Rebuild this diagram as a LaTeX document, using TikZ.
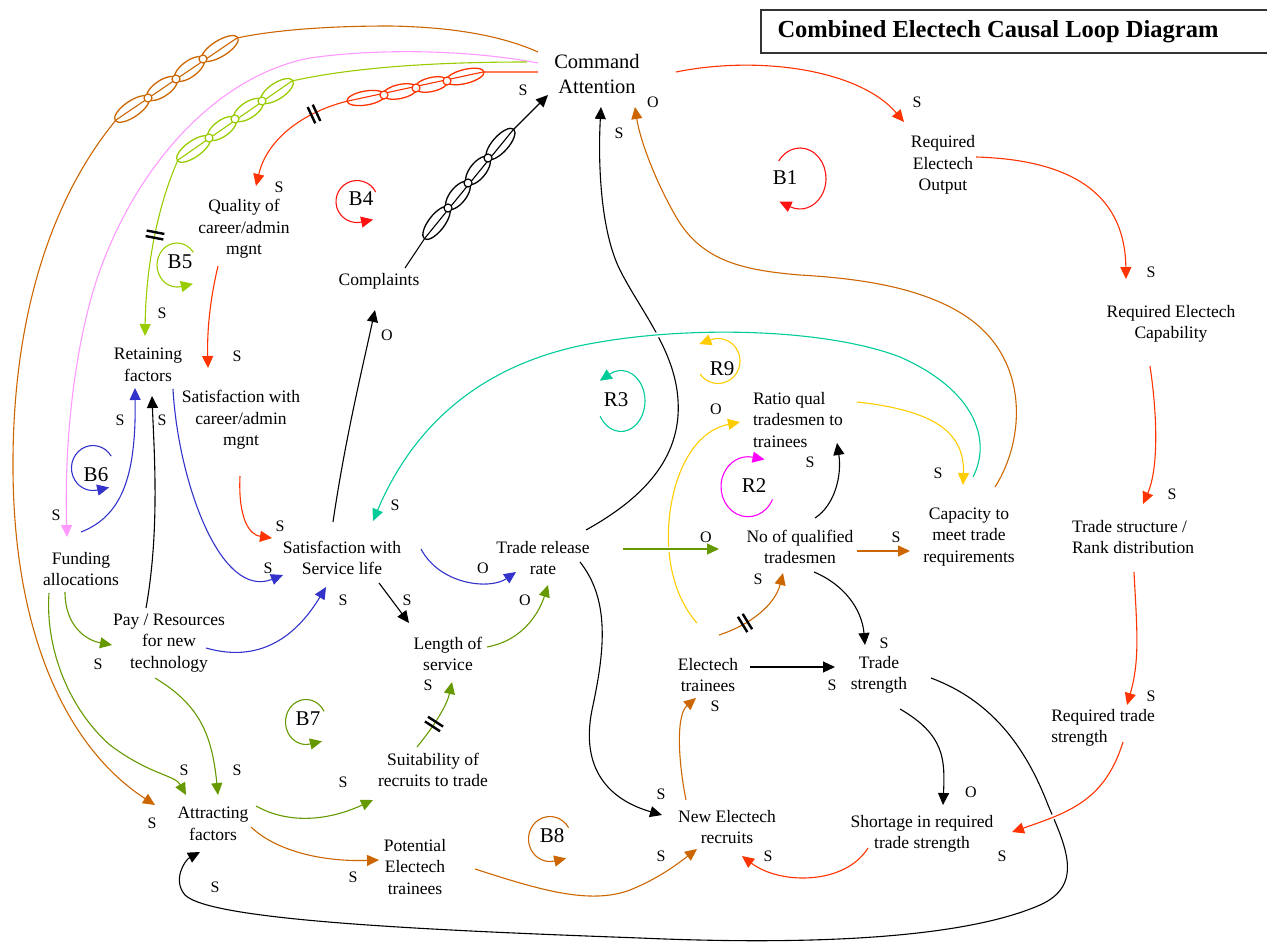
\documentclass[tikz,border=0pt]{standalone}
\usepackage{fontspec}
\setmainfont{Liberation Serif}
\usetikzlibrary{arrows.meta}

\definecolor{cRed}{HTML}{FF3300}
\definecolor{cLoopRed}{HTML}{FF1111}
\definecolor{cBrown}{HTML}{CC6600}
\definecolor{cPink}{HTML}{FF99FF}
\definecolor{cLime}{HTML}{99CC00}
\definecolor{cGreen}{HTML}{669900}
\definecolor{cBlue}{HTML}{3333CC}
\definecolor{cTeal}{HTML}{00CC99}
\definecolor{cYellow}{HTML}{FFCC00}
\definecolor{cMagenta}{HTML}{FF00FF}

\tikzset{
  var/.style={font=\fontsize{17.5}{21.5}\selectfont, align=center, inner sep=0pt},
  varl/.style={var, align=left},
  pol/.style={font=\fontsize{16}{16}\selectfont, inner sep=0pt},
  looplab/.style={font=\fontsize{21}{21}\selectfont, inner sep=0pt},
  link/.style={line width=1.1pt, -{Triangle[length=12pt,width=11pt]}},
  loopline/.style={line width=1.1pt, -{Triangle[length=12pt,width=11pt]}},
  jump/.style={preaction={draw=white, line width=5pt, -}},
  chainlink/.style={line width=1.3pt, fill=white},
  joint/.style={line width=1.2pt, fill=white},
  delaymark/.pic={\draw[line width=2.4pt] (-2.8,-9) -- (-2.8,9) (2.8,-9) -- (2.8,9);},
}

\begin{document}
\begin{tikzpicture}[x=1pt,y=-1pt]
\useasboundingbox (0,0) rectangle (1267,944);

% ---------- title ----------
\draw[line width=1.5pt, draw=black!80] (761,10) rectangle (1285,53);
\node[font=\fontsize{24.5}{24.5}\selectfont\bfseries, inner sep=0pt] (title) at (998,32) {Combined Electech Causal Loop Diagram};

% ---------- variables ----------
\node[var, font=\fontsize{20.5}{25}\selectfont] (cmd) at (597,74) {Command\\Attention};
\node[var] (reqout)  at (943,165)  {Required\\Electech\\Output};
\node[var] (reqcap)  at (1171,324) {Required Electech\\Capability};
\node[varl] (tstruct) at (1133,537) {Trade structure /\\Rank distribution};
\node[varl] (reqts)  at (1103,728) {Required trade\\strength};
\node[var] (short)   at (922,834)  {Shortage in required\\trade strength};
\node[var] (newrec)  at (727,827)  {New Electech\\recruits};
\node[var] (etrain)  at (708,675)  {Electech\\trainees};
\node[var] (tstr)    at (879,675)  {Trade\\strength};
\node[var] (nqual)   at (800,547)  {No of qualified\\tradesmen};
\node[var] (capac)   at (969,537)  {Capacity to\\meet trade\\requirements};
\node[varl] (ratio)  at (798,420)  {Ratio qual\\tradesmen to\\trainees};
\node[var] (trr)     at (543,558)  {Trade release\\rate};
\node[var] (sats)    at (342,558)  {Satisfaction with\\Service life};
\node[var] (los)     at (448,654)  {Length of\\service};
\node[var] (suit)    at (433,770)  {Suitability of\\recruits to trade};
\node[var] (pot)     at (415,867)  {Potential\\Electech\\trainees};
\node[var] (attr)    at (213,824)  {Attracting\\factors};
\node[var] (pay)     at (169,643)  {Pay / Resources\\for new\\technology};
\node[var] (fund)    at (81,569)   {Funding\\allocations};
\node[var] (ret)     at (148,365)  {Retaining\\factors};
\node[var] (satc)    at (241,420)  {Satisfaction with\\career/admin\\mgnt};
\node[var] (qual)    at (244,229)  {Quality of\\career/admin\\mgnt};
\node[var] (compl)   at (379,281)  {Complaints};

% ---------- black links ----------
\begin{scope}[color=black]
\draw[link] ([shift={(26,-13)}]compl.center) -- (425,238) -- (513,130) -- ([shift={(-49,21)}]cmd.center);
\draw[link] ([shift={(-23,-35)}]pay.center) .. controls (160,530) and (154,450) .. ([shift={(4,31)}]ret.center);
\draw[link] ([shift={(-9,-36)}]sats.center) .. controls (345,440) and (362,370) .. ([shift={(-4,29)}]compl.center);
\draw[link] ([shift={(37,25)}]sats.center) -- ([shift={(-39,-31)}]los.center);
\draw[link] ([shift={(37,4)}]trr.center) .. controls (610,600) and (605,650) .. (592,710) .. controls (580,770) and (610,800) .. ([shift={(-65,-12)}]newrec.center);
\draw[link] ([shift={(43,-28)}]trr.center) .. controls (640,500) and (682,460) .. (678,400) .. controls (675,350) and (640,310) .. (620,270) .. controls (600,230) and (598,160) .. ([shift={(4,33)}]cmd.center);
\draw[link] ([shift={(15,-29)}]nqual.center) .. controls (835,505) and (842,475) .. ([shift={(39,23)}]ratio.center);
\draw[link] ([shift={(14,25)}]nqual.center) .. controls (845,585) and (862,610) .. ([shift={(-14,-30)}]tstr.center);
\draw[link] ([shift={(42,-8)}]etrain.center) -- ([shift={(-44,-8)}]tstr.center);
\draw[link] ([shift={(21,34)}]tstr.center) .. controls (945,735) and (945,760) .. ([shift={(21,-29)}]short.center);
\draw[link] ([shift={(52,3)}]tstr.center) .. controls (990,700) and (1025,745) .. (1048,805) .. controls (1065,845) and (1085,885) .. (1040,905) .. controls (960,940) and (800,945) .. (640,938) .. controls (420,930) and (210,920) .. (185,895) .. controls (172,880) and (185,860) .. ([shift={(-13,28)}]attr.center);
\end{scope}

% ---------- yellow links ----------
\begin{scope}[color=cYellow]
\draw[link] ([shift={(-11,-52)}]etrain.center) .. controls (668,590) and (664,540) .. (672,500) .. controls (680,460) and (700,430) .. ([shift={(-58,2)}]ratio.center);
\draw[link] ([shift={(59,-18)}]ratio.center) .. controls (930,410) and (965,430) .. ([shift={(-6,-52)}]capac.center);
\end{scope}

% ---------- blue links ----------
\begin{scope}[color=cBlue]
\draw[link] ([shift={(0,-37)}]fund.center) .. controls (125,515) and (136,470) .. ([shift={(-13,23)}]ret.center);
\draw[link] ([shift={(25,24)}]ret.center) .. controls (178,480) and (220,600) .. ([shift={(-59,17)}]sats.center);
\draw[link] ([shift={(37,5)}]pay.center) .. controls (265,665) and (300,630) .. ([shift={(-16,29)}]sats.center);
\draw[link] ([shift={(79,-9)}]sats.center) .. controls (440,585) and (490,590) .. ([shift={(-27,14)}]trr.center);
\end{scope}

% ---------- brown links ----------
\begin{scope}[color=cBrown]
\draw[link] ([shift={(-59,-22)}]cmd.center) .. controls (500,35) and (450,27) .. (390,26) .. controls (320,26) and (270,31) .. (237,38) -- (116,120) .. controls (50,200) and (12,320) .. (13,470) .. controls (14,640) and (70,750) .. ([shift={(-58,-19)}]attr.center);
\draw[link] ([shift={(26,-50)}]capac.center) .. controls (1025,440) and (1030,360) .. (967,317) .. controls (920,285) and (850,278) .. (800,275) .. controls (740,270) and (700,260) .. (675,215) .. controls (655,180) and (640,140) .. ([shift={(38,33)}]cmd.center);
\draw[link] ([shift={(38,3)}]attr.center) .. controls (275,850) and (320,862) .. ([shift={(-36,-7)}]pot.center);
\draw[link] ([shift={(60,2)}]pot.center) .. controls (540,890) and (590,905) .. (630,890) .. controls (660,878) and (680,862) .. ([shift={(-30,22)}]newrec.center);
\draw[link] ([shift={(-41,-27)}]newrec.center) .. controls (678,760) and (676,715) .. ([shift={(-12,23)}]etrain.center);
\draw[link] ([shift={(11,-40)}]etrain.center) .. controls (750,625) and (775,605) .. ([shift={(-17,26)}]nqual.center);
\draw[link] ([shift={(57,4)}]nqual.center) -- ([shift={(-59,14)}]capac.center);
\end{scope}

% ---------- pink and lime links ----------
\draw[link, color=cPink] ([shift={(-59,-11)}]cmd.center) .. controls (470,50) and (380,48) .. (310,58) .. controls (220,75) and (140,160) .. (100,270) .. controls (75,340) and (64,440) .. ([shift={(-14,-32)}]fund.center);
\draw[link, color=cLime] ([shift={(-70,-12)}]cmd.center) .. controls (430,62) and (350,68) .. (292,81) -- (178,160) .. controls (160,200) and (146,260) .. ([shift={(-3,-29)}]ret.center);

% ---------- green links ----------
\begin{scope}[color=cGreen]
\draw[link] ([shift={(-16,23)}]fund.center) .. controls (65,625) and (85,640) .. ([shift={(-57,2)}]pay.center);
\draw[link] ([shift={(-32,24)}]fund.center) .. controls (45,650) and (70,710) .. (110,745) .. controls (150,775) and (175,775) .. ([shift={(-27,-29)}]attr.center);
\draw[link] ([shift={(-14,35)}]pay.center) .. controls (200,705) and (212,735) .. ([shift={(5,-29)}]attr.center);
\draw[link] ([shift={(43,-18)}]attr.center) .. controls (290,825) and (330,820) .. ([shift={(-60,30)}]suit.center);
\draw[link] ([shift={(-16,-23)}]suit.center) .. controls (435,725) and (447,705) .. ([shift={(4,28)}]los.center);
\draw[link] ([shift={(39,-7)}]los.center) .. controls (525,640) and (540,610) .. ([shift={(5,27)}]trr.center);
\draw[link, jump] ([shift={(80,-9)}]trr.center) -- ([shift={(-81,2)}]nqual.center);
\end{scope}

% ---------- teal link ----------
\draw[link, jump, color=cTeal] ([shift={(4,-60)}]capac.center) .. controls (992,440) and (975,390) .. (900,357) .. controls (830,330) and (700,325) .. (600,342) .. controls (500,358) and (420,410) .. ([shift={(31,-37)}]sats.center);

% ---------- red links ----------
\begin{scope}[color=cRed]
\draw[link] ([shift={(79,-2)}]cmd.center) .. controls (760,55) and (860,70) .. ([shift={(-39,-43)}]reqout.center);
\draw[link] ([shift={(33,-8)}]reqout.center) .. controls (1080,160) and (1125,200) .. ([shift={(-45,-45)}]reqcap.center);
\draw[link] ([shift={(-21,42)}]reqcap.center) .. controls (1158,420) and (1158,470) .. ([shift={(10,-33)}]tstruct.center);
\draw[link] ([shift={(1,35)}]tstruct.center) .. controls (1137,630) and (1140,660) .. ([shift={(24,-23)}]reqts.center);
\draw[link, jump] ([shift={(20,14)}]reqts.center) .. controls (1105,800) and (1070,812) .. ([shift={(90,-2)}]short.center);
\draw[link] ([shift={(-54,14)}]short.center) .. controls (845,885) and (780,885) .. ([shift={(15,29)}]newrec.center);
\draw[link] ([shift={(-59,-2)}]cmd.center) -- (483,72) -- (348,101) .. controls (310,110) and (268,135) .. ([shift={(12,-43)}]qual.center);
\draw[link] ([shift={(-26,37)}]qual.center) .. controls (210,300) and (207,330) .. ([shift={(-33,-52)}]satc.center);
\draw[link] ([shift={(-1,56)}]satc.center) .. controls (238,520) and (250,535) .. ([shift={(-70,-20)}]sats.center);
\end{scope}

% ---------- chains of links on the slow connections ----------
\begin{scope}[chainlink, draw=cRed]
\draw[rotate around={9.5:(366,98)}] (366,98) ellipse [x radius=19.3, y radius=7];
\draw[rotate around={12.3:(400,91.5)}] (400,91.5) ellipse [x radius=17.4, y radius=7];
\draw[rotate around={12.7:(431.5,84.5)}] (431.5,84.5) ellipse [x radius=16.9, y radius=7];
\draw[rotate around={14:(465,76.5)}] (465,76.5) ellipse [x radius=19.6, y radius=7];
\draw[joint] (384,95) circle [radius=4] (416,88) circle [radius=4] (447,81) circle [radius=4];
\end{scope}
\begin{scope}[chainlink, draw=cLime]
\draw[rotate around={35.4:(193.5,149)}] (193.5,149) ellipse [x radius=20, y radius=8];
\draw[rotate around={36.2:(222,128.5)}] (222,128.5) ellipse [x radius=17.1, y radius=8];
\draw[rotate around={33.7:(248.5,110)}] (248.5,110) ellipse [x radius=17.2, y radius=8];
\draw[rotate around={33.7:(277,91)}] (277,91) ellipse [x radius=19, y radius=8];
\draw[joint] (209,138) circle [radius=4] (235,119) circle [radius=4] (262,101) circle [radius=4];
\end{scope}
\begin{scope}[chainlink, draw=cBrown]
\draw[rotate around={34.5:(132,109)}] (132,109) ellipse [x radius=20.4, y radius=8];
\draw[rotate around={34.2:(162,88.5)}] (162,88.5) ellipse [x radius=17.9, y radius=8];
\draw[rotate around={36.5:(189.5,69)}] (189.5,69) ellipse [x radius=17.8, y radius=8];
\draw[rotate around={31.7:(220,48.5)}] (220,48.5) ellipse [x radius=21, y radius=8];
\draw[joint] (148,98) circle [radius=4] (176,79) circle [radius=4] (203,59) circle [radius=4];
\end{scope}
\begin{scope}[chainlink, draw=black]
\draw[rotate around={52.5:(436.5,223)}] (436.5,223) ellipse [x radius=19.9, y radius=8];
\draw[rotate around={51.3:(458,195.5)}] (458,195.5) ellipse [x radius=17, y radius=8];
\draw[rotate around={51.3:(478,170.5)}] (478,170.5) ellipse [x radius=17, y radius=8];
\draw[rotate around={48.2:(500.5,144)}] (500.5,144) ellipse [x radius=19.8, y radius=8];
\draw[joint] (448,208) circle [radius=4] (468,183) circle [radius=4] (488,158) circle [radius=4];
\end{scope}

% ---------- delay marks ----------
\pic[rotate=25] at (314,114) {delaymark};
\pic[rotate=79] at (155,235) {delaymark};
\pic[rotate=57] at (434,724) {delaymark};
\pic[rotate=31.5] at (745,623) {delaymark};

% ---------- loop markers ----------
\node[looplab] (lB1) at (785,178) {B1};
\draw[loopline, color=cLoopRed] ([shift={(-6.3,-17)}]lB1.center) arc[start angle=-145, end angle=112, x radius=26, y radius=30.5] -- ++(-10.8,-5.1);
\node[looplab] (lB4) at (361,199) {B4};
\draw[loopline, color=cLoopRed] ([shift={(14.7,-7)}]lB4.center) arc[start angle=-27, end angle=-282, radius=21] -- ++(11.7,-2.5);
\node[looplab] (lB5) at (180,262) {B5};
\draw[loopline, color=cLime] ([shift={(13.4,-9.6)}]lB5.center) arc[start angle=-35, end angle=-282, x radius=20, y radius=22] -- ++(11.7,-2.7);
\node[looplab] (lB6) at (96,475) {B6};
\draw[loopline, color=cBlue] ([shift={(15.2,-18.9)}]lB6.center) arc[start angle=-32, end angle=-282, x radius=21.5, y radius=22.5] -- ++(11.7,-2.6);
\node[looplab] (lB7) at (308,719) {B7};
\draw[loopline, color=cGreen] ([shift={(16.1,-7.6)}]lB7.center) arc[start angle=-28, end angle=-282, x radius=20.5, y radius=22.5] -- ++(11.7,-2.7);
\node[looplab] (lB8) at (552,836) {B8};
\draw[loopline, color=cBrown] ([shift={(16.6,-8.25)}]lB8.center) arc[start angle=-30, end angle=-282, x radius=21.5, y radius=22.5] -- ++(11.7,-2.6);
\node[looplab] (lR3) at (616,400) {R3};
\draw[loopline, color=cTeal] ([shift={(-15.8,16.25)}]lR3.center) arc[start angle=150, end angle=-118, x radius=24, y radius=30.5] -- ++(-9.9,6.7);
\node[looplab] (lR9) at (722,369) {R9};
\draw[loopline, color=cYellow] ([shift={(-22,4.9)}]lR9.center) arc[start angle=145, end angle=-110, x radius=22, y radius=22.5] -- ++(-11.2,4.2);
\node[looplab] (lR2) at (754,486) {R2};
\draw[loopline, color=cMagenta] ([shift={(18.5,13.4)}]lR2.center) arc[start angle=25, end angle=280, x radius=27, y radius=30] -- ++(11.8,2.3);

% ---------- link polarities ----------
\node[pol] (p1)  at (523,90)   {S};
\node[pol] (p2)  at (653,102)  {O};
\node[pol] (p3)  at (619,133)  {S};
\node[pol] (p4)  at (917,102)  {S};
\node[pol] (p5)  at (279,187)  {S};
\node[pol] (p6)  at (1151,272) {S};
\node[pol] (p7)  at (162,313)  {S};
\node[pol] (p8)  at (387,335)  {O};
\node[pol] (p9)  at (237,356)  {S};
\node[pol] (p10) at (120,420)  {S};
\node[pol] (p11) at (162,420)  {S};
\node[pol] (p12) at (716,409)  {O};
\node[pol] (p13) at (810,462)  {S};
\node[pol] (p14) at (938,473)  {S};
\node[pol] (p15) at (1172,494) {S};
\node[pol] (p16) at (56,515)   {S};
\node[pol] (p17) at (395,505)  {S};
\node[pol] (p18) at (280,526)  {S};
\node[pol] (p19) at (706,537)  {O};
\node[pol] (p20) at (896,537)  {S};
\node[pol] (p21) at (268,568)  {S};
\node[pol] (p22) at (483,568)  {O};
\node[pol] (p23) at (758,579)  {S};
\node[pol] (p24) at (343,600)  {S};
\node[pol] (p25) at (407,600)  {S};
\node[pol] (p26) at (525,600)  {O};
\node[pol] (p27) at (884,643)  {S};
\node[pol] (p28) at (98,664)   {S};
\node[pol] (p29) at (428,685)  {S};
\node[pol] (p30) at (832,685)  {S};
\node[pol] (p31) at (715,706)  {S};
\node[pol] (p32) at (1151,696) {S};
\node[pol] (p33) at (184,770)  {S};
\node[pol] (p34) at (237,770)  {S};
\node[pol] (p35) at (343,782)  {S};
\node[pol] (p36) at (971,792)  {O};
\node[pol] (p37) at (661,794)  {S};
\node[pol] (p38) at (152,823)  {S};
\node[pol] (p39) at (768,856)  {S};
\node[pol] (p40) at (661,856)  {S};
\node[pol] (p41) at (1002,856) {S};
\node[pol] (p42) at (353,877)  {S};
\node[pol] (p43) at (215,887)  {S};

\end{tikzpicture}
\end{document}
